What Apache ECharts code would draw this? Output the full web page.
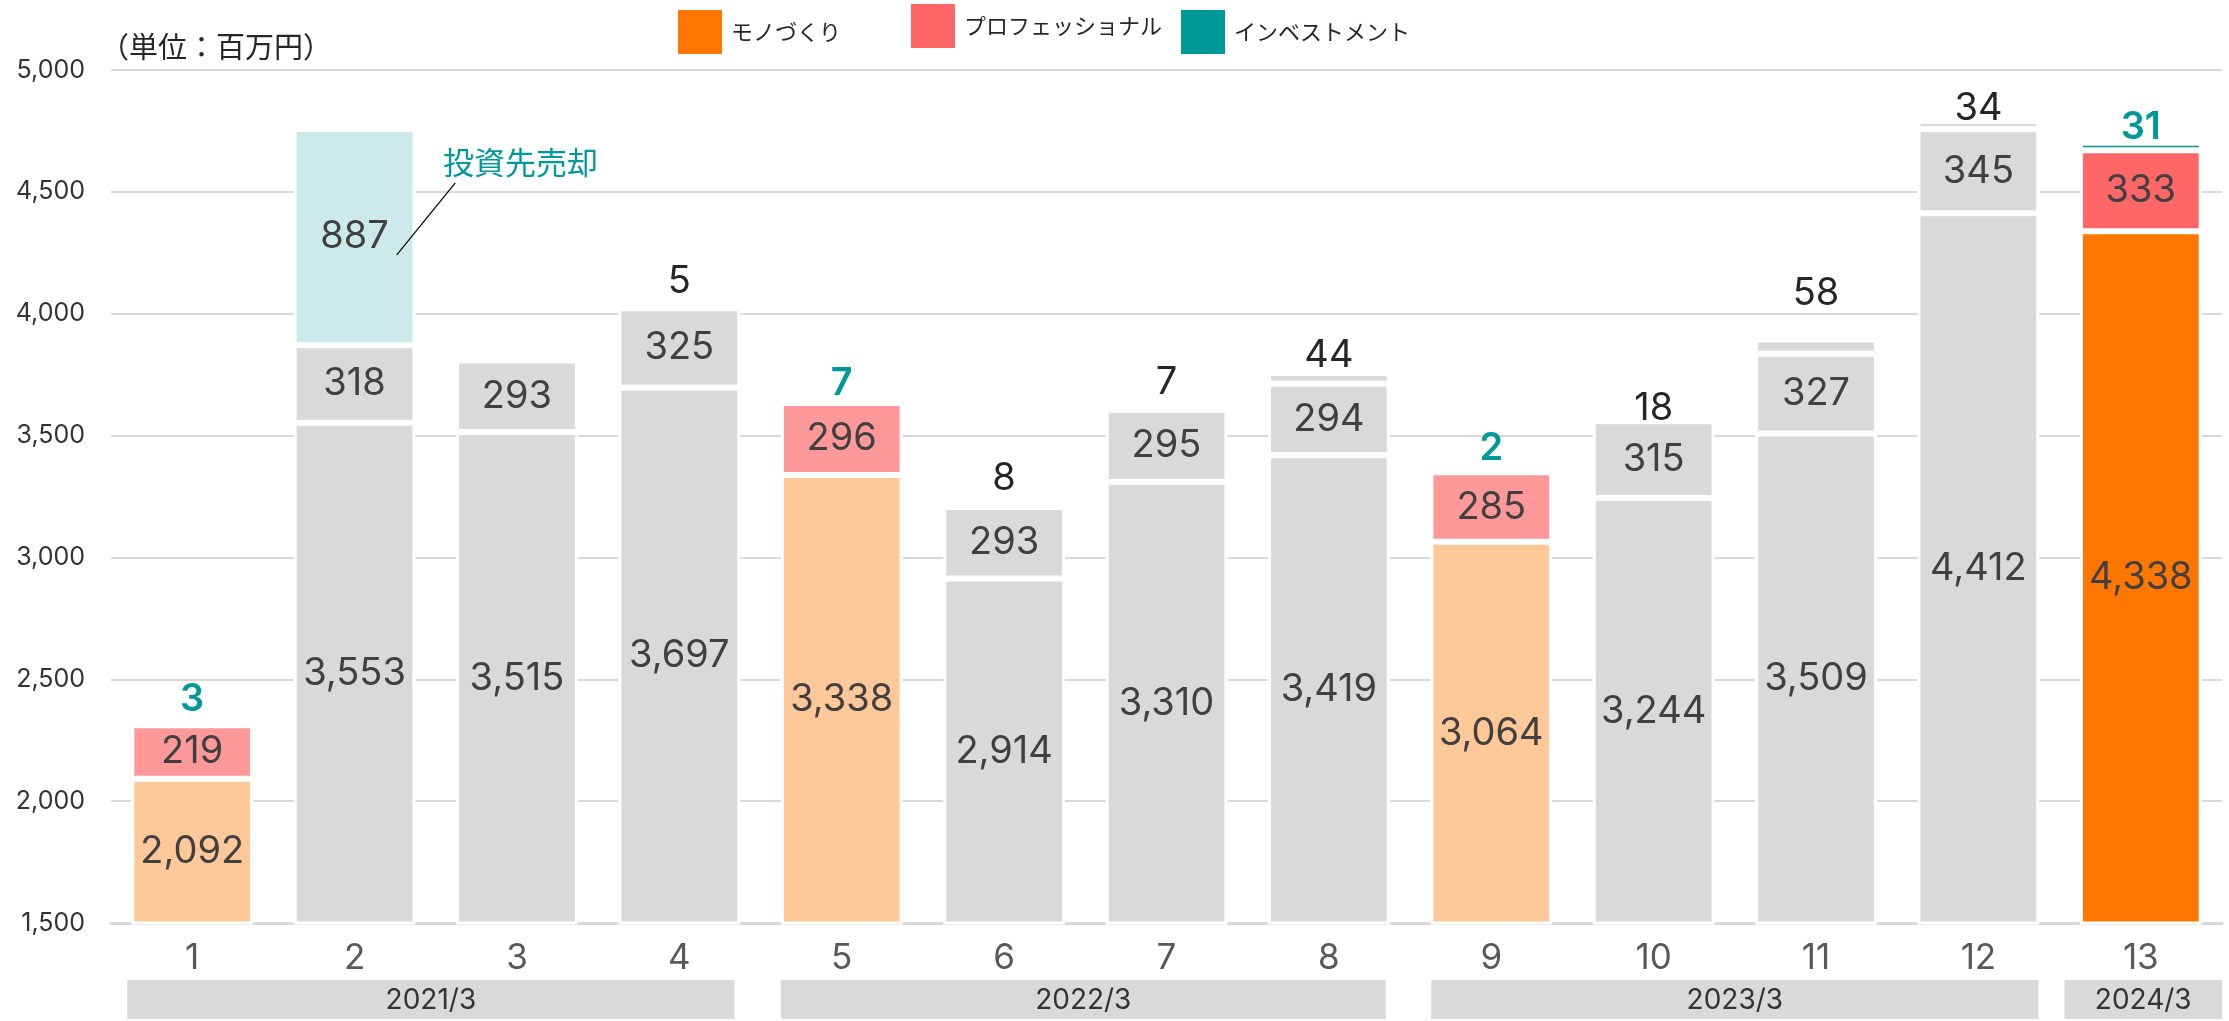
<!DOCTYPE html>
<html>
<head>
<meta charset="utf-8">
<script src="https://cdn.jsdelivr.net/npm/echarts@6/dist/echarts.min.js"></script>
<style>
html,body{margin:0;padding:0;background:#fff;}
#chart{width:2229px;height:1021px;}
</style>
</head>
<body>
<div id="chart"></div>
<script>
// ---- data ----
const categories = ['1','2','3','4','5','6','7','8','9','10','11','12','13'];
const monozukuri = [2092, 3553, 3515, 3697, 3338, 2914, 3310, 3419, 3064, 3244, 3509, 4412, 4338];
const professional = [219, 318, 293, 325, 296, 293, 295, 294, 285, 315, 327, 345, 333];
const investment = [3, 887, null, 5, 7, 8, 7, 44, 2, 18, 58, 34, 31];
const groupLabels = ['2021/3', '2022/3', '2023/3', '2024/3'];
const groupFirst = [0, 4, 8, 12];
const groupLast = [3, 7, 11, 12];
const highlightLight = [0, 4, 8];   // light highlighted bars
const highlightFull = [12];         // fully coloured bar
const soldIndex = 1;                // investment sale bar
const annotationText = '投資先売却';
const unitText = '（単位：百万円）';
const yTicks = {min: 1500, max: 5000, interval: 500};

// ---- styles ----
const C = {
  orange: '#FF7700', orangeLight: '#FFC899',
  pink: '#FF6666', pinkLight: '#FF9999',
  teal: '#009999', tealLight: '#CCEAEA',
  gray: '#D9D9D9', label: '#404040', labelTop: '#262626'
};
const NUM_FONT = 'Inter, "Noto Sans", sans-serif';
const JP_FONT = '"Noto Sans CJK JP", "Noto Sans", sans-serif';
// per-bar gap between the top label and the bar (style, px)
const topLabelGap = [5, 0, 0, 6, -2, 7, 6, -2, 3, -11, 27, -7, -4];

function colorFor(i, full, light, soldColor) {
  if (highlightFull.includes(i)) return full;
  if (highlightLight.includes(i)) return light;
  if (soldColor && i === soldIndex) return soldColor;
  return C.gray;
}
const fmt = v => v == null ? '' : Number(v).toLocaleString('en-US');

const border = {borderColor: '#fff', borderWidth: 3};
const insideLabel = {show: true, position: 'inside', color: C.label, fontSize: 38, fontFamily: NUM_FONT, formatter: p => fmt(p.value)};

const monoData = monozukuri.map((v, i) => ({value: v, itemStyle: Object.assign({color: colorFor(i, C.orange, C.orangeLight)}, border)}));
const proData = professional.map((v, i) => ({value: v, itemStyle: Object.assign({color: colorFor(i, C.pink, C.pinkLight)}, border)}));
const invData = investment.map((v, i) => {
  const hl = highlightFull.includes(i) || highlightLight.includes(i);
  const lab = (i === soldIndex)
    ? {show: true, position: 'inside', color: C.label, fontSize: 38, fontFamily: NUM_FONT}
    : {show: v != null, position: 'top', distance: topLabelGap[i], color: hl ? C.teal : C.labelTop,
       fontWeight: hl ? 600 : 'normal', fontSize: 38, fontFamily: NUM_FONT};
  return {value: v, label: lab,
    itemStyle: Object.assign({color: colorFor(i, C.teal, C.tealLight, C.tealLight)}, border)};
});

const chart = echarts.init(document.getElementById('chart'), null, {renderer: 'canvas'});

const legendBase = {
  orient: 'horizontal', icon: 'rect', itemWidth: 44, itemHeight: 44, padding: 0,
  textStyle: {fontSize: 22, color: '#262626', fontFamily: JP_FONT, padding: [0, 0, 0, 4]}
};

chart.setOption({
  animation: false,
  textStyle: {fontFamily: NUM_FONT},
  title: {text: unitText, left: 100, top: 32, padding: 0,
    textStyle: {fontSize: 29, fontWeight: 'normal', color: '#262626', fontFamily: JP_FONT}},
  legend: [
    Object.assign({}, legendBase, {data: ['モノづくり'], left: 678, top: 10}),
    Object.assign({}, legendBase, {data: ['プロフェッショナル'], left: 911, top: 4}),
    Object.assign({}, legendBase, {data: ['インベストメント'], left: 1181, top: 10})
  ],
  grid: {left: 111, right: 7, top: 70, bottom: 98, containLabel: false},
  xAxis: {
    type: 'category', data: categories,
    axisLine: {lineStyle: {color: C.gray, width: 3}},
    axisTick: {show: false},
    axisLabel: {fontSize: 35, color: '#595959', margin: 18, fontFamily: NUM_FONT}
  },
  yAxis: {
    type: 'value', min: yTicks.min, max: yTicks.max, interval: yTicks.interval,
    axisLine: {show: false}, axisTick: {show: false},
    splitLine: {lineStyle: {color: C.gray, width: 2}},
    axisLabel: {fontSize: 25, color: '#333333', margin: 26, fontFamily: NUM_FONT, formatter: v => fmt(v)}
  },
  series: [
    {name: 'モノづくり', type: 'bar', stack: 'total', barWidth: '75%', color: C.orange,
     data: monoData, label: insideLabel},
    {name: 'プロフェッショナル', type: 'bar', stack: 'total', barWidth: '75%', color: C.pink,
     data: proData, label: insideLabel},
    {name: 'インベストメント', type: 'bar', stack: 'total', barWidth: '75%', color: C.teal,
     data: invData, label: {formatter: p => fmt(p.value)}}
  ]
});

// ---- annotation & period boxes positioned through the axes ----
function xAt(c) {
  const p0 = chart.convertToPixel({xAxisIndex: 0}, 0);
  const p1 = chart.convertToPixel({xAxisIndex: 0}, 1);
  return p0 + (p1 - p0) * c;
}
function yAt(v) { return chart.convertToPixel({yAxisIndex: 0}, v); }

const boxInsets = [[0.40, 0.34], [0.375, 0.35], [0.37, 0.37], [0.47, 0.5]];
const graphics = [];
groupLabels.forEach((g, k) => {
  const x0 = xAt(groupFirst[k] - boxInsets[k][0]);
  const x1 = xAt(groupLast[k] + boxInsets[k][1]);
  const yTop = yAt(yTicks.min) + 57;
  graphics.push({type: 'rect', z: 100, shape: {x: x0, y: yTop, width: x1 - x0, height: 39},
    style: {fill: C.gray}, silent: true});
  graphics.push({type: 'text', z: 101, x: (x0 + x1) / 2, y: yTop + 21,
    style: {text: g, fontSize: 28, fill: '#333333', fontFamily: NUM_FONT, align: 'center', verticalAlign: 'middle'}});
});

// callout line from the sold segment to its note
const soldTop = monozukuri[soldIndex] + professional[soldIndex] + investment[soldIndex];
graphics.push({type: 'line', z: 100, shape: {
    x1: xAt(soldIndex + 0.26), y1: yAt(soldTop - 517),
    x2: xAt(soldIndex + 0.62), y2: yAt(soldTop - 221)},
  style: {stroke: '#000', lineWidth: 1.2}, silent: true});
graphics.push({type: 'text', z: 100, x: xAt(soldIndex + 0.545), y: yAt(soldTop - 135),
  style: {text: annotationText, fontSize: 31, fill: C.teal, fontFamily: JP_FONT, align: 'left', verticalAlign: 'middle'}});

chart.setOption({graphic: graphics});
</script>
</body>
</html>
